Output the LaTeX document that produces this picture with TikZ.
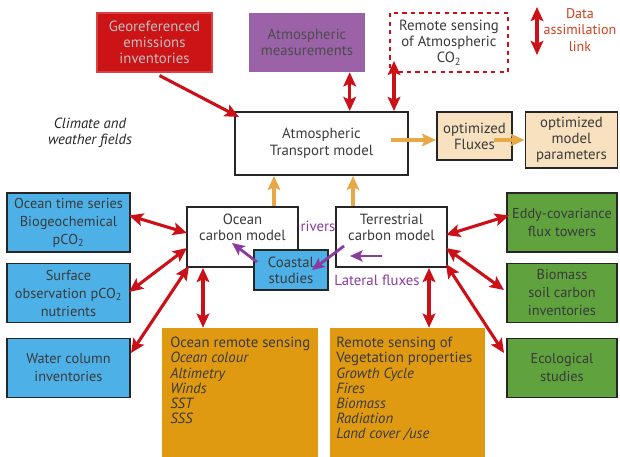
\documentclass[tikz,border=0pt]{standalone}
\usepackage{fontspec}
\setmainfont{PT Sans}
\usetikzlibrary{arrows.meta,calc}
\definecolor{linkred}{HTML}{CC1018}
\definecolor{legendred}{HTML}{D2401E}
\definecolor{geored}{HTML}{CC1417}
\definecolor{measpurple}{HTML}{9C62A8}
\definecolor{obsblue}{HTML}{4DB1E8}
\definecolor{obsgreen}{HTML}{5FA23E}
\definecolor{senseorange}{HTML}{E09A12}
\definecolor{opttan}{HTML}{F8E1BE}
\definecolor{fluxorange}{HTML}{E8A847}
\definecolor{latpurple}{HTML}{8A3AA0}
\definecolor{inkgray}{HTML}{3A3A3A}

\begin{document}
\begin{tikzpicture}[x=0.025cm,y=-0.025cm,
  font=\fontsize{10.5}{11.5}\selectfont,
  box/.style={draw=black!85,line width=1.4pt,align=center,inner sep=1pt,text=inkgray},
  obsbox/.style={box,minimum width=3.075cm,minimum height=1.475cm,font=\fontsize{10.2}{12.8}\selectfont},
  senbox/.style={fill=senseorange,minimum width=3.9cm,minimum height=3.3cm},
  sentext/.style={align=left,anchor=north west,inner sep=0pt,text=inkgray,font=\fontsize{10.5}{10.8}\selectfont},
  dalink/.style={linkred,line width=2.2pt,{Stealth[length=10pt,width=9pt,inset=2pt]}-{Stealth[length=10pt,width=9pt,inset=2pt]}},
  geolink/.style={linkred,line width=2.2pt,-{Stealth[length=10pt,width=9pt,inset=2pt]}},
  fluxlink/.style={fluxorange,line width=2.2pt,-{Stealth[length=10pt,width=9pt,inset=2pt]}},
  latlink/.style={latpurple,line width=2pt,-{Stealth[length=9pt,width=8pt,inset=2pt]}}]
  \useasboundingbox (0,0) rectangle (620,457);
  % top row
  \node[fill=geored,draw=geored!80!white,line width=0.8pt,align=center,text=black!25,
    minimum width=2.875cm,minimum height=1.475cm] (geo) at (154.5,42.5)
    {Georeferenced\\emissions\\inventories};
  \node[fill=measpurple,align=center,text=black!70,
    minimum width=2.9cm,minimum height=1.475cm] (meas) at (307,42.5)
    {Atmospheric\\measurements};
  \node[draw=linkred,dashed,line width=1.4pt,align=center,text=inkgray,
    minimum width=2.95cm,minimum height=1.475cm] (rsco) at (449,42.5)
    {Remote sensing\\of Atmospheric\\CO\textsubscript{2}};
  \coordinate (legtop) at (537,7);
  \coordinate (legbot) at (537,55);
  \node[text=legendred,align=center,font=\fontsize{10}{11.5}\selectfont] (legend) at (580,30) {Data\\assimilation\\link};
  % transport model and outputs
  \node[box,minimum width=4.325cm,minimum height=1.575cm,font=\fontsize{10.5}{12}\selectfont] (trans) at (321.5,143.5)
    {Atmospheric\\Transport model};
  \node[font=\fontsize{10.5}{11.5}\selectfont\itshape,align=center,text=black!85] (climate) at (90,133)
    {Climate and\\weather fields};
  \node[box,fill=opttan,minimum width=1.875cm,minimum height=1.2cm] (flux) at (474.5,136)
    {optimized\\Fluxes};
  \node[box,fill=opttan,minimum width=2.3cm,minimum height=1.4cm] (param) at (571.5,140)
    {optimized\\model\\parameters};
  % carbon models
  \node[box,fill=white,minimum width=2.775cm,minimum height=1.5cm] (ocean) at (242.5,237) {};
  \node[text=inkgray,align=center] (oceantxt) at (242.5,227) {Ocean\\carbon model};
  \node[box,fill=white,minimum width=2.775cm,minimum height=1.5cm] (terr) at (391.5,237) {};
  \node[text=inkgray,align=center] (terrtxt) at (391.5,227) {Terrestrial\\carbon model};
  \node[box,fill=obsblue,minimum width=1.85cm,minimum height=1.0cm] (coast) at (291,270)
    {Coastal\\studies};
  \node[text=latpurple] (rivers) at (318,226) {rivers};
  \node[text=latpurple] (lateral) at (377,280) {Lateral fluxes};
  % ocean observations
  \node[obsbox,fill=obsblue] (ots) at (68.5,222.5) {Ocean time series\\Biogeochemical\\pCO\textsubscript{2}};
  \node[obsbox,fill=obsblue] (sobs) at (68.5,293) {Surface\\observation pCO\textsubscript{2}\\nutrients};
  \node[obsbox,fill=obsblue] (wcol) at (68.5,368) {Water column\\inventories};
  % land observations
  \node[obsbox,fill=obsgreen,minimum width=2.75cm] (eddy) at (562,222.5) {Eddy-covariance\\flux towers};
  \node[obsbox,fill=obsgreen,minimum width=2.75cm] (bio) at (562,293) {Biomass\\soil carbon\\inventories};
  \node[obsbox,fill=obsgreen,minimum width=2.75cm] (eco) at (562,368) {Ecological\\studies};
  % remote sensing
  \node[senbox] (osense) at (240,394) {};
  \node[sentext] (osensetxt) at (170,337)
    {Ocean remote sensing\\\textit{Ocean colour}\\\textit{Altimetry}\\\textit{Winds}\\\textit{SST}\\\textit{SSS}};
  \node[senbox,minimum width=3.875cm] (vsense) at (407.5,394) {};
  \node[sentext] (vsensetxt) at (336,337)
    {Remote sensing of\\Vegetation properties\\\textit{Growth Cycle}\\\textit{Fires}\\\textit{Biomass}\\\textit{Radiation}\\\textit{Land cover /use}};
  % red links
  \draw[dalink] (legtop) -- (legbot);
  \draw[geolink] ($(geo.south)+(5,3)$) -- ($(trans.north west)+(5,6)$);
  \draw[dalink] ($(meas.south west)+(101,0)$) coordinate (mm) -- (mm |- trans.north);
  \draw[dalink] ($(rsco.south west)+(5,-12)$) coordinate (rr) -- (rr |- trans.north);
  \draw[dalink] ($(ots.east)+(-2,-7)$) -- ($(ocean.west)+(1,-4)$);
  \draw[dalink] ($(sobs.east)+(-2,-1)$) -- ($(ocean.west)+(1,11)$);
  \draw[dalink] ($(wcol.east)+(0,-15)$) -- ($(ocean.south west)+(3,-2)$);
  \draw[dalink] ($(ocean.south west)+(17,0)$) coordinate (oo) -- (oo |- osense.north);
  \draw[dalink] ($(terr.east)+(-2,-2)$) -- ($(eddy.west)+(3,-7)$);
  \draw[dalink] ($(terr.east)+(-2,11)$) -- ($(bio.west)+(-2,-3)$);
  \draw[dalink] ($(terr.south east)+(-2,-4)$) -- ($(eco.west)+(-2,-15)$);
  \draw[dalink] ($(terr.south east)+(-19,0)$) coordinate (tt) -- (tt |- vsense.north);
  % flux links
  \draw[fluxlink] ($(trans.east)+(-18,-3.5)$) coordinate (tf) -- (tf -| flux.west);
  \draw[fluxlink] ($(flux.east)+(-19,4)$) coordinate (ff) -- (ff -| param.west);
  \draw[fluxlink] ($(ocean.north)+(31.5,0)$) coordinate (ou) -- (ou |- trans.south);
  \draw[fluxlink] ($(terr.north)+(-38.5,0)$) coordinate (tu) -- (tu |- trans.south);
  % lateral fluxes
  \draw[latlink] ($(coast.west)+(4,-8)$) -- ($(ocean.center)+(-10.5,6)$);
  \draw[latlink] ($(terr.west)+(9,9)$) -- ($(coast.center)+(21,0)$);
  \draw[latlink] ($(terr.center)+(-9.5,19)$) -- ($(terr.center)+(-41.5,19)$);
\end{tikzpicture}
\end{document}
